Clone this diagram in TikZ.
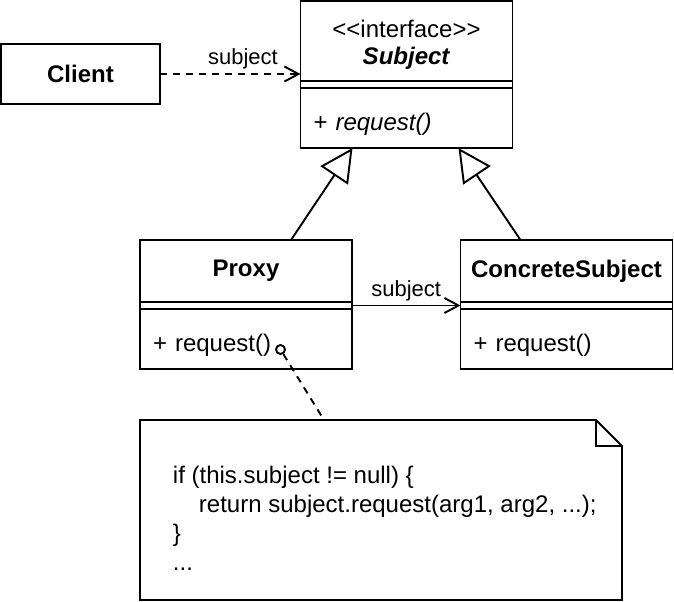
\documentclass[tikz,border=0pt]{standalone}
\usepackage{fontspec}
\setmainfont{Liberation Sans}
\usetikzlibrary{arrows.meta, positioning, calc}

\newcommand\umlfont{\fontsize{13.66}{16.5}\selectfont}
\newcommand\lblfont{\fontsize{12.5}{15}\selectfont}

\begin{document}
\begin{tikzpicture}[
    line width=1.1pt,
    box/.style={
        rectangle, draw, outer sep=0pt, inner sep=0pt,
        minimum width=4.24cm, font=\umlfont
    },
    head/.style={box, minimum height=1.24cm, font=\umlfont\bfseries, align=center},
    attr/.style={box, minimum height=0.14cm},
    ops/.style={box, minimum height=1.2cm, text width=3.72cm, inner xsep=0.26cm, align=left, text height=1.72em},
    code/.style={inner sep=0pt, align=left, font=\umlfont},
    dep/.style={dash pattern=on 0.14cm off 0.12cm, -{Straight Barb[length=0.28cm, width=0.3cm]}},
    assoc/.style={-{Straight Barb[length=0.28cm, width=0.3cm]}},
    inherit/.style={-{Triangle[open, length=0.66cm, width=0.66cm]}},
    lbl/.style={font=\lblfont, inner sep=2pt}
]

\useasboundingbox (0,0) rectangle (13.48,-12.04);

\node[box, minimum width=3.18cm, minimum height=1.2cm, font=\umlfont\bfseries] (client) at (1.61,-1.48) {Client};

\node[head, minimum height=1.6cm, font=\umlfont] (subject) at (8.13,-0.82) {\rule{0pt}{1.06em}<\kern0pt<interface>\kern0pt>\\[-1.1pt]\textbf{\textit{Subject}}};
\node[attr, below=0pt of subject] (subject-attr) {};
\node[ops, below=0pt of subject-attr] (subject-ops) {+ \textit{request()}};

\node[head] (proxy) at (4.92,-5.42) {Proxy};
\node[attr, below=0pt of proxy] (proxy-attr) {};
\node[ops, below=0pt of proxy-attr] (proxy-ops) {+ request()};

\node[head] (concrete) at (11.33,-5.42) {ConcreteSubject};
\node[attr, below=0pt of concrete] (concrete-attr) {};
\node[ops, below=0pt of concrete-attr] (concrete-ops) {+ request()};

\node[minimum width=9.64cm, minimum height=3.6cm, outer sep=0pt] (memo) at (7.62,-10.2) {};
\draw (memo.north west) -- ($(memo.north east)+(-0.52,0)$) -- ($(memo.north east)+(0,-0.52)$) |- (memo.south west) -- cycle;
\draw ($(memo.north east)+(-0.52,0)$) |- ($(memo.north east)+(0,-0.52)$);
\node[code, anchor=west] (memo-code) at ($(memo.west)+(0.64,-0.16)$) {if (this.subject != null) \{\\\hspace*{0.52cm}return subject.request(arg1, arg2, ...);\\\}\\...};
\coordinate (memo-pin) at ($(memo.north west)+(3.68,0)$);

\node[circle, draw, minimum size=0.18cm, inner sep=0pt] (knob) at (5.61,-6.99) {};

\draw[dep] (client.east) -- node[lbl, above, pos=0.59]{subject} (client.east -| subject.west);
\draw[assoc] (proxy-attr.east) -- node[lbl, above]{subject} (concrete-attr.west);
\draw[inherit] ($(proxy.north)+(0.9,0)$) -- ($(subject-ops.south)+(-1.08,0)$);
\draw[inherit] ($(concrete.north)+(-0.92,0)$) -- ($(subject-ops.south)+(1.04,0)$);
\draw[dash pattern=on 0.14cm off 0.12cm] (knob) -- (memo-pin);

\end{tikzpicture}
\end{document}
